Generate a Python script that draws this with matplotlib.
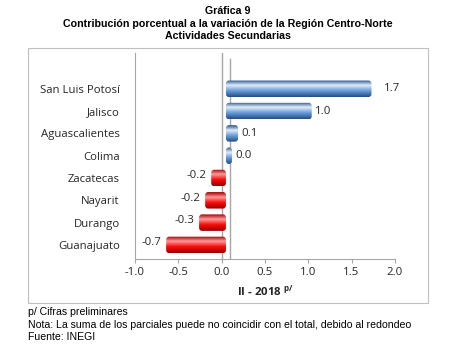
import matplotlib.pyplot as plt
import numpy as np
from matplotlib.patches import Rectangle, FancyBboxPatch

# datos (de abajo hacia arriba)
estados = ["Guanajuato", "Durango", "Nayarit", "Zacatecas",
           "Colima", "Aguascalientes", "Jalisco", "San Luis Potosí"]
valores = [-0.69, -0.31, -0.24, -0.17, 0.04, 0.14, 0.99, 1.68]
etiquetas = ["-0.7", "-0.3", "-0.2", "-0.2", "0.0", "0.1", "1.0", "1.7"]
xticks = [-1.0, -0.5, 0.0, 0.5, 1.0, 1.5, 2.0]

fig = plt.figure(figsize=(4.56, 3.5), dpi=100)
ax = fig.add_axes([0.296, 0.26, 0.570, 0.589])

# marco exterior
fig.patches.append(Rectangle((28 / 456, 1 - 303 / 350), 400 / 456, 255 / 350,
                             transform=fig.transFigure, fill=False,
                             edgecolor="#bfbfbf", lw=0.8))

desp = 0.05  # efecto 3D
alto = 0.74
y = np.arange(len(estados))
fs = 8.2

azul = np.array([[0.15, 0.32, 0.55], [0.88, 0.93, 0.98], [0.42, 0.62, 0.85], [0.14, 0.30, 0.52]])
rojo = np.array([[0.62, 0.00, 0.00], [1.00, 0.60, 0.60], [0.98, 0.05, 0.05], [0.60, 0.00, 0.00]])


def gradiente(cols):
    t = np.linspace(0, 1, 64)
    pos = [0, 0.3, 0.62, 1]
    return np.stack([np.interp(t, pos, cols[:, i]) for i in range(3)], axis=1)


for i, v in enumerate(valores):
    cols = azul if v >= 0 else rojo
    x0, x1 = sorted([desp, desp + v])
    if x1 - x0 < 0.07:
        x1 = x0 + 0.07
    caja = FancyBboxPatch((x0, y[i] - alto / 2), x1 - x0, alto,
                          boxstyle="round,pad=0,rounding_size=0.035",
                          mutation_aspect=3.9, transform=ax.transData)
    g = gradiente(cols)[:, None, :]
    im = ax.imshow(g, extent=[x0, x1, y[i] - alto / 2, y[i] + alto / 2],
                   aspect="auto", origin="upper", zorder=3)
    im.set_clip_path(caja)
    if v >= 0:
        pad = 0.14 if v > 1.5 else 0.04
        ax.text(x1 + pad, y[i], etiquetas[i], va="center", ha="left",
                fontsize=fs, color="#262626", family="Open Sans", zorder=4)
    else:
        ax.text(x0 - 0.05, y[i] + 0.1, etiquetas[i], va="center", ha="right",
                fontsize=fs, color="#262626", family="Open Sans", zorder=4)

ax.axvline(0, color="#a6a6a6", lw=1.0, zorder=1)
ax.axvline(0.1, color="#a6a6a6", lw=1.0, zorder=1, ymax=0.97)

ax.set_xlim(-1.0, 2.0)
ax.set_ylim(-0.63, 8.61)
ax.set_xticks(xticks)
ax.set_xticklabels([f"{t:.1f}" for t in xticks], family="Open Sans",
                   fontsize=fs, color="#262626")
ax.set_yticks(y)
ax.set_yticklabels(estados, family="Open Sans", fontsize=fs, color="#262626")
ax.tick_params(axis="y", length=0, pad=11)
ax.tick_params(axis="x", length=3, color="#a6a6a6", pad=3)
for s in ["top", "right"]:
    ax.spines[s].set_visible(False)
for s in ["left", "bottom"]:
    ax.spines[s].set_color("#a6a6a6")

ax.set_xlabel(r"II - 2018 $^{\mathregular{p/}}$", family="Open Sans",
              fontweight="bold", fontsize=fs, color="#262626", labelpad=4)

fig.text(0.5, 1 - 11 / 350, "Gráfica 9", ha="center", va="center",
         family="Liberation Sans", fontweight="bold", fontsize=7.7)
fig.text(0.5, 1 - 24 / 350, "Contribución porcentual a la variación de la Región Centro-Norte",
         ha="center", va="center", family="Liberation Sans", fontweight="bold", fontsize=7.7)
fig.text(0.5, 1 - 36 / 350, "Actividades Secundarias", ha="center", va="center",
         family="Liberation Sans", fontweight="bold", fontsize=7.7)

fig.text(28 / 456, 1 - 312 / 350, "p/ Cifras preliminares", va="center",
         family="Liberation Sans", fontsize=7.6)
fig.text(28 / 456, 1 - 325 / 350,
         "Nota: La suma de los parciales puede no coincidir con el total, debido al redondeo",
         va="center", family="Liberation Sans", fontsize=7.6)
fig.text(28 / 456, 1 - 337 / 350, "Fuente: INEGI", va="center",
         family="Liberation Sans", fontsize=7.6)

fig.savefig("out.png", dpi=100)
